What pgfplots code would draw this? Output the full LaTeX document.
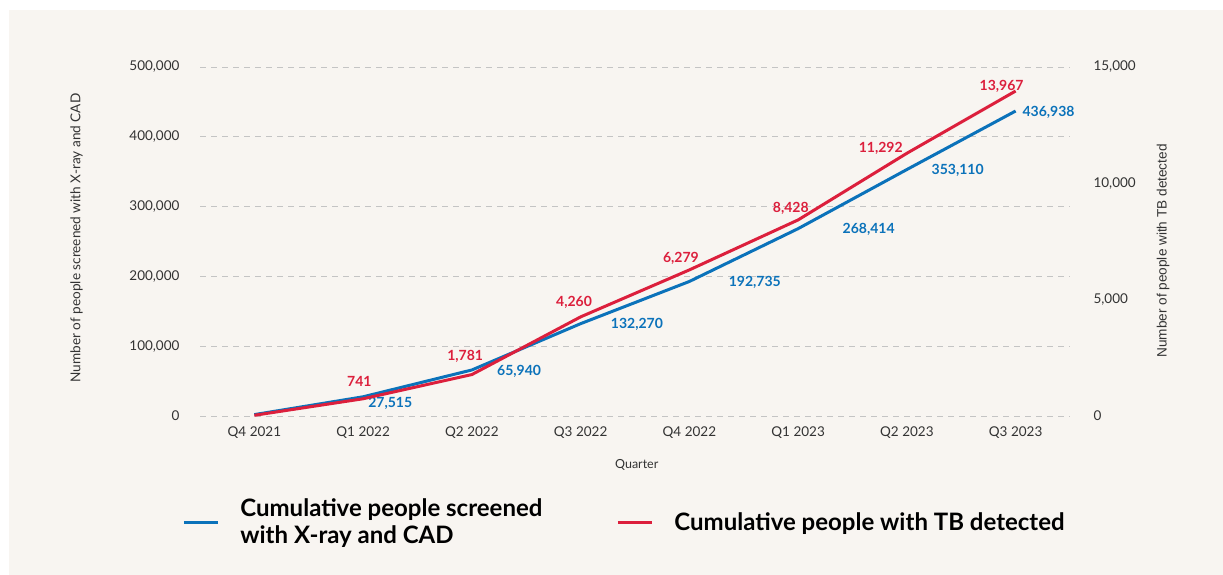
\documentclass[border=0pt]{standalone}
\usepackage{pgfplots}
\pgfplotsset{compat=1.18}
\usepackage{fontspec}
\setmainfont{Lato}
\newfontfamily\arialfont{Liberation Sans}
\definecolor{bg}{HTML}{F8F5F1}
\definecolor{cblue}{HTML}{0B72BA}
\definecolor{cred}{HTML}{DC1F3C}
\definecolor{txt}{HTML}{333333}
\definecolor{gridc}{HTML}{C4C4C4}
\begin{document}
\begin{tikzpicture}
\fill[white] (0,0) rectangle (1223pt,575pt);
\fill[bg] (9pt,0) rectangle (1223pt,565pt);
\begin{axis}[
  at={(200pt,159pt)}, anchor=south west,
  scale only axis, width=870pt, height=349pt,
  xmin=-0.5, xmax=7.5, ymin=0, ymax=500000,
  xtick={0,...,7},
  xticklabels={Q4 2021,Q1 2022,Q2 2022,Q3 2022,Q4 2022,Q1 2023,Q2 2023,Q3 2023},
  ytick={0,100000,200000,300000,400000,500000},
  scaled y ticks=false,
  /pgf/number format/.cd, 1000 sep={,}, fixed, assume math mode=true, /pgfplots/.cd,
  axis line style={draw=none},
  major tick length=0pt,
  ymajorgrids,
  major grid style={gridc, line width=0.9pt, dash pattern=on 6pt off 5pt},
  tick label style={font=\fontsize{13.5}{16}\selectfont, text=txt},
  xticklabel style={yshift=-7pt},
  yticklabel style={xshift=-17pt},
  xlabel={Quarter},
  ylabel={Number of people screened with X-ray and CAD},
  every axis x label/.style={at={(axis description cs:0.502,-0.14)}, anchor=center, font=\fontsize{12.5}{15}\selectfont, text=txt},
  every axis y label/.style={at={(axis description cs:-0.142,0.51)}, rotate=90, anchor=center, font=\fontsize{13.6}{15}\selectfont, text=txt},
  clip=false,
]
\addplot[cblue, line width=3pt] coordinates {
  (0,2000) (1,27515) (2,65940) (3,132270) (4,192735) (5,268414) (6,353110) (7,436938)};
\begin{scope}[every node/.style={font=\fontsize{14}{16}\selectfont\bfseries, text=cblue, anchor=center}]
\node at (axis cs:1.249,18600) {27,515};
\node at (axis cs:2.434,64471) {65,940};
\node at (axis cs:3.518,131808) {132,270};
\node at (axis cs:4.602,191982) {192,735};
\node at (axis cs:5.649,267915) {268,414};
\node at (axis cs:6.467,352444) {353,110};
\node at (axis cs:7.303,435540) {436,938};
\end{scope}
\begin{scope}[every node/.style={font=\fontsize{14}{16}\selectfont\bfseries, text=cred, anchor=center}]
\node at (axis cs:0.965,50144) {741};
\node at (axis cs:1.938,85960) {1,781};
\node at (axis cs:2.940,163328) {4,260};
\node at (axis cs:3.922,226368) {6,279};
\node at (axis cs:4.933,298000) {8,428};
\node at (axis cs:5.760,383964) {11,292};
\node at (axis cs:6.871,472791) {13,967};
\end{scope}
\end{axis}
\begin{axis}[
  at={(200pt,159pt)}, anchor=south west,
  scale only axis, width=870pt, height=349pt,
  xmin=-0.5, xmax=7.5, ymin=0, ymax=15000,
  axis x line=none,
  axis y line*=right,
  ytick={0,5000,10000,15000},
  scaled y ticks=false,
  /pgf/number format/.cd, 1000 sep={,}, fixed, assume math mode=true, /pgfplots/.cd,
  axis line style={draw=none},
  major tick length=0pt,
  tick label style={font=\fontsize{13.5}{16}\selectfont, text=txt},
  yticklabel style={xshift=20pt, anchor=west},
  ylabel={Number of people with TB detected},
  every axis y label/.style={at={(axis description cs:1.107,0.473)}, rotate=90, anchor=center, font=\arialfont\fontsize{13.6}{15}\selectfont, text=txt},
  clip=false,
  legend columns=2,
  legend cell align=left,
  legend image code/.code={\draw[#1] (0pt,0pt) -- (34pt,0pt);},
  legend style={at={(axis description cs:-0.0205,-0.304)}, anchor=west,
    draw=none, fill=none, inner sep=0pt,
    font=\fontsize{24}{27}\selectfont\bfseries,
    cells={anchor=west},
    nodes={inner sep=0pt, align=left},
    /tikz/every odd column/.append style={column sep=21pt},
    /tikz/every even column/.append style={column sep=74pt}},
]
\addlegendimage{cblue, line width=3pt}
\addlegendentry{Cumulative people screened\\with X-ray and CAD}
\addplot[cred, line width=3pt] coordinates {
  (0,30) (1,741) (2,1781) (3,4260) (4,6279) (5,8428) (6,11292) (7,13967)};
\addlegendentry{Cumulative people with TB detected}
\end{axis}
\useasboundingbox (0,0) rectangle (1223pt,575pt);
\end{tikzpicture}
\end{document}
